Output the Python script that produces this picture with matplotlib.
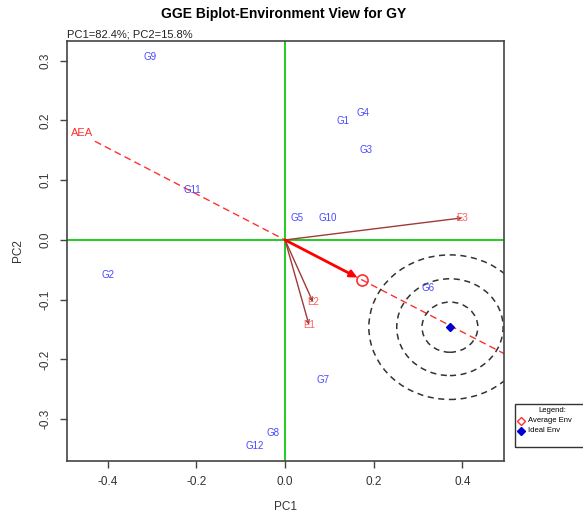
import numpy as np
import matplotlib
matplotlib.use('Agg')
import matplotlib.pyplot as plt
from matplotlib.patches import Ellipse, Rectangle
from matplotlib.lines import Line2D

plt.rcParams['font.family'] = ['Liberation Sans', 'DejaVu Sans']

# genotype scores
gen_names = ['G1', 'G2', 'G3', 'G4', 'G5', 'G6', 'G7', 'G8', 'G9', 'G10', 'G11', 'G12']
gen_pc1 = [0.131, -0.40, 0.183, 0.176, 0.027, 0.323, 0.086, -0.027, -0.305, 0.097, -0.21, -0.068]
gen_pc2 = [0.199, -0.059, 0.151, 0.213, 0.037, -0.080, -0.235, -0.323, 0.307, 0.037, 0.084, -0.345]

# environment scores
env_names = ['E1', 'E2', 'E3']
env_pc1 = [0.054, 0.063, 0.400]
env_pc2 = [-0.142, -0.104, 0.037]

avg_env = (0.174, -0.067)
ideal_env = (0.372, -0.146)
aea_start = (-0.429, 0.165)
aea_label = (-0.458, 0.179)

# concentric rings around ideal env (x radius, y radius)
ring_rx = [0.063, 0.120, 0.183]
ring_ry = [0.042, 0.081, 0.121]

fig = plt.figure(figsize=(5.83, 5.16), dpi=100)
ax = fig.add_axes([0.1149, 0.1066, 0.7496, 0.8139])
ax.set_xlim(-0.492, 0.494)
ax.set_ylim(-0.370, 0.333)

ax.axhline(0, color='#22cc22', lw=1.4, zorder=1)
ax.axvline(0, color='#22cc22', lw=1.4, zorder=1)

# AEA line through origin and average env
slope = avg_env[1] / avg_env[0]
xs = np.array([aea_start[0], 0.494])
ax.plot(xs, slope * xs, color='#ff3030', ls=(0, (5, 3)), lw=1.0, zorder=2)
ax.text(aea_label[0], aea_label[1], 'AEA', color='#ff3030', fontsize=8,
        ha='center', va='center')

# rings
for rx, ry in zip(ring_rx, ring_ry):
    ax.add_patch(Ellipse(ideal_env, 2 * rx, 2 * ry, fill=False, color='#333333',
                         ls=(0, (4, 3)), lw=1.1, zorder=2))

# environment vectors
for name, x, y in zip(env_names, env_pc1, env_pc2):
    ax.annotate('', xy=(x, y), xytext=(0, 0),
                arrowprops=dict(arrowstyle='->', color='#a03a3a', lw=1.0,
                                shrinkA=0, shrinkB=0, mutation_scale=6))
    ax.text(x, y, name, color='#ff6060', fontsize=7, ha='center', va='center')

# average env arrow
ax.annotate('', xy=avg_env, xytext=(0, 0),
            arrowprops=dict(arrowstyle='-|>', color='#ff0000', lw=2.0,
                            shrinkA=0, shrinkB=4, mutation_scale=10))
ax.plot(*avg_env, marker='o', ms=8, mfc='none', mec='#ff3030', mew=1.2)

ax.plot(*ideal_env, marker='D', ms=4, color='#0000cc')

for name, x, y in zip(gen_names, gen_pc1, gen_pc2):
    ax.text(x, y, name, color='#4848ff', fontsize=7, ha='center', va='center')

ax.set_xticks([-0.4, -0.2, 0.0, 0.2, 0.4])
ax.set_xticklabels(['-0.4', '-0.2', '0.0', '0.2', '0.4'])
ax.set_yticks([-0.3, -0.2, -0.1, 0.0, 0.1, 0.2, 0.3])
ax.set_yticklabels(['-0.3', '-0.2', '-0.1', '0.0', '0.1', '0.2', '0.3'],
                   rotation=90, va='center')
ax.tick_params(length=5, width=1, color='#444444', labelsize=8.5,
               labelcolor='#333333', pad=6)
for s in ax.spines.values():
    s.set_color('#444444')
    s.set_linewidth(1.2)

ax.set_xlabel('PC1', fontsize=8.5, color='#333333', labelpad=9)
ax.set_ylabel('PC2', fontsize=8.5, color='#333333', labelpad=11)

fig.text(0.486, 0.973, 'GGE Biplot-Environment View for GY', fontsize=10,
         fontweight='bold', ha='center', va='center')
fig.text(0.1149, 0.934, 'PC1=82.4%; PC2=15.8%', fontsize=8, ha='left',
         va='center', color='#222222')

# legend box (extends past the figure edge)
fig.add_artist(Rectangle((515 / 583, 1 - 447 / 516), 0.2, 43 / 516, fill=False,
                         ec='#333333', lw=1.0, transform=fig.transFigure))
fig.text(552 / 583, 1 - 411 / 516, 'Legend:', fontsize=5.5, ha='center', va='center')
fig.add_artist(Line2D([521 / 583], [1 - 421 / 516], marker='D', ms=4, mfc='none',
                      mec='#ff3030', mew=1.0, transform=fig.transFigure))
fig.add_artist(Line2D([521 / 583], [1 - 431 / 516], marker='D', ms=4,
                      color='#0000cc', transform=fig.transFigure))
fig.text(528 / 583, 1 - 421 / 516, 'Average Env', fontsize=5.5, ha='left', va='center')
fig.text(528 / 583, 1 - 431 / 516, 'Ideal Env', fontsize=5.5, ha='left', va='center')

fig.savefig('out.png', dpi=100)
